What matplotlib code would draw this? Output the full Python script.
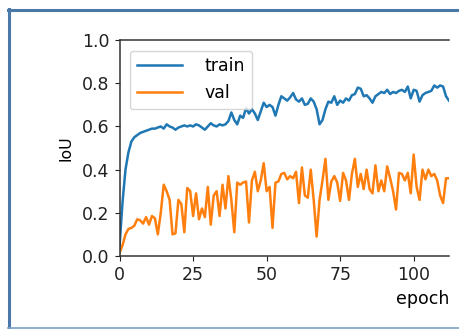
import numpy as np
import matplotlib
matplotlib.use("Agg")
import matplotlib.pyplot as plt
from matplotlib.lines import Line2D

# IoU per epoch
train = [0.05, 0.25, 0.40, 0.48, 0.53, 0.55, 0.56, 0.57, 0.575, 0.58,
         0.585, 0.59, 0.59, 0.595, 0.60, 0.59, 0.61, 0.60, 0.595, 0.585,
         0.595, 0.60, 0.605, 0.60, 0.605, 0.60, 0.61, 0.605, 0.595, 0.585,
         0.60, 0.615, 0.605, 0.60, 0.61, 0.605, 0.61, 0.625, 0.665, 0.63,
         0.61, 0.65, 0.64, 0.685, 0.66, 0.68, 0.66, 0.63, 0.67, 0.71,
         0.69, 0.70, 0.69, 0.65, 0.70, 0.74, 0.73, 0.72, 0.735, 0.755,
         0.725, 0.715, 0.73, 0.70, 0.705, 0.73, 0.715, 0.68, 0.61, 0.63,
         0.68, 0.715, 0.71, 0.74, 0.70, 0.72, 0.71, 0.73, 0.72, 0.745,
         0.75, 0.78, 0.775, 0.74, 0.745, 0.73, 0.71, 0.74, 0.75, 0.76,
         0.755, 0.77, 0.75, 0.76, 0.755, 0.765, 0.77, 0.76, 0.785, 0.73,
         0.77, 0.765, 0.715, 0.745, 0.755, 0.76, 0.765, 0.79, 0.78, 0.79,
         0.785, 0.74, 0.72]
val = [0.015, 0.05, 0.10, 0.125, 0.13, 0.14, 0.17, 0.165, 0.15, 0.18,
       0.145, 0.185, 0.175, 0.10, 0.20, 0.33, 0.30, 0.26, 0.10, 0.105,
       0.26, 0.24, 0.11, 0.315, 0.30, 0.185, 0.29, 0.17, 0.22, 0.18,
       0.32, 0.145, 0.28, 0.30, 0.185, 0.33, 0.22, 0.37, 0.26, 0.11,
       0.34, 0.33, 0.34, 0.345, 0.155, 0.35, 0.39, 0.30, 0.35, 0.43,
       0.30, 0.32, 0.13, 0.34, 0.345, 0.38, 0.385, 0.355, 0.37, 0.36,
       0.39, 0.245, 0.41, 0.28, 0.27, 0.40, 0.26, 0.09, 0.26, 0.35,
       0.45, 0.26, 0.345, 0.37, 0.34, 0.255, 0.385, 0.35, 0.26, 0.38,
       0.45, 0.32, 0.38, 0.31, 0.40, 0.31, 0.29, 0.42, 0.30, 0.35,
       0.30, 0.415, 0.36, 0.30, 0.215, 0.385, 0.38, 0.35, 0.385, 0.29,
       0.47, 0.32, 0.26, 0.40, 0.355, 0.40, 0.37, 0.38, 0.35, 0.28,
       0.245, 0.36, 0.36]
epochs = np.arange(len(train))
xticks = [0, 25, 50, 75, 100]
yticks = [0.0, 0.2, 0.4, 0.6, 0.8, 1.0]

fs = 12.5
fig = plt.figure(figsize=(4.6, 3.29), dpi=100)
ax = fig.add_axes([0.26, 0.222, 0.716, 0.656])
ax.plot(epochs, train, color="#1f77b4", lw=1.8, label="train")
ax.plot(epochs, val, color="#ff7f0e", lw=1.8, label="val")
ax.set_xlim(0, 112)
ax.set_ylim(0, 1)
ax.set_xticks(xticks)
ax.set_yticks(yticks)
ax.set_yticklabels(["%.1f" % v for v in yticks])
ax.tick_params(labelsize=fs, colors="#222222", pad=4)
ax.spines["right"].set_visible(False)
for s in ["top", "left", "bottom"]:
    ax.spines[s].set_color("#333333")
    ax.spines[s].set_linewidth(1.1)
ax.set_ylabel("IoU", fontsize=fs * 0.9, labelpad=6)
ax.set_xlabel("epoch", fontsize=fs, loc="right", labelpad=4)
ax.legend(loc="upper left", fontsize=fs, handlelength=2.6, handletextpad=1.3,
          borderaxespad=0.6)

# blue frame around the picture (right side cropped away)
fig.add_artist(Line2D([9.5 / 460, 9.5 / 460], [1 - 9 / 329, 1 - 328 / 329],
                      transform=fig.transFigure, color="#4a78a8", lw=2.2))
fig.add_artist(Line2D([8 / 460, 1], [1 - 9.5 / 329, 1 - 9.5 / 329],
                      transform=fig.transFigure, color="#4a78a8", lw=2.2))
fig.add_artist(Line2D([8 / 460, 1], [1 - 328 / 329, 1 - 328 / 329],
                      transform=fig.transFigure, color="#7aa0c8", lw=1.2))

fig.savefig("out.png", dpi=100)
